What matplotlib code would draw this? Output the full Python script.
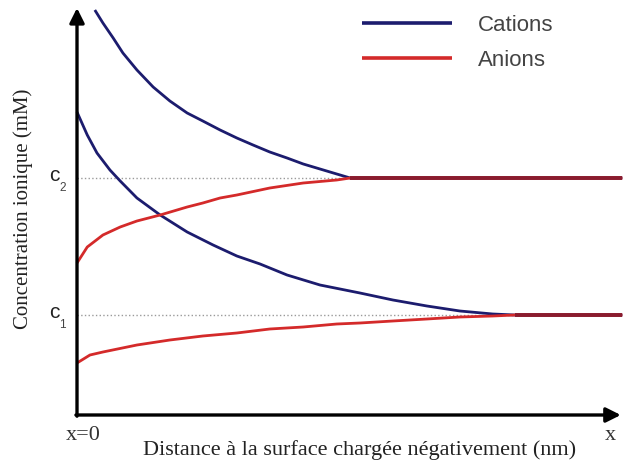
import matplotlib
matplotlib.use('Agg')
import matplotlib.pyplot as plt  # noqa: E402
import numpy as np  # noqa: E402

# ------------------------------------------------------------------
# Data (arbitrary units: x in nm, y in mM)
# ------------------------------------------------------------------
c1_level = 1.00
c2_level = 2.37

# high concentration (c2) profiles
x_cat_c2 = [0.33, 0.48, 0.67, 0.85, 1.11, 1.41, 1.72, 2.04, 2.33, 2.65, 2.96, 3.26,
            3.57, 3.89, 4.19, 4.50, 4.81, 5.06, 10.1]
y_cat_c2 = [4.05, 3.92, 3.77, 3.62, 3.45, 3.28, 3.14, 3.02, 2.94, 2.85, 2.77, 2.70,
            2.63, 2.57, 2.51, 2.46, 2.41, 2.37, 2.37]
x_an_c2 = [0.00, 0.19, 0.48, 0.80, 1.11, 1.54, 2.04, 2.33, 2.65, 2.96, 3.57, 4.19,
           4.81, 5.06, 10.1]
y_an_c2 = [1.52, 1.68, 1.80, 1.88, 1.94, 2.00, 2.08, 2.12, 2.17, 2.20, 2.27, 2.32,
           2.35, 2.37, 2.37]

# low concentration (c1) profiles
x_cat_c1 = [0.00, 0.19, 0.37, 0.61, 0.80, 1.11, 1.54, 2.04, 2.52, 2.96, 3.39, 3.89,
            4.50, 5.24, 5.85, 6.48, 7.09, 7.70, 8.11, 10.1]
y_cat_c1 = [3.03, 2.80, 2.62, 2.45, 2.34, 2.17, 2.00, 1.83, 1.70, 1.59, 1.51, 1.40,
            1.30, 1.22, 1.15, 1.09, 1.04, 1.01, 1.00, 1.00]
x_an_c1 = [0.00, 0.24, 0.48, 1.11, 1.72, 2.33, 2.96, 3.57, 4.19, 4.81, 5.24, 5.85,
           6.48, 7.09, 7.70, 8.11, 10.1]
y_an_c1 = [0.52, 0.60, 0.63, 0.70, 0.75, 0.79, 0.82, 0.86, 0.88, 0.91, 0.92, 0.94,
           0.96, 0.98, 0.99, 1.00, 1.00]

series_labels = ['Cations', 'Anions']

CAT_COLOR = '#1c1c6e'
AN_COLOR = '#d42a2a'
MIX_COLOR = '#8a1c2e'
SERIF = 'Liberation Serif'
SANS = 'Liberation Sans'

fig = plt.figure(figsize=(6.23, 4.63), dpi=100)
ax = fig.add_axes([0, 0, 1, 1])
ax.set_xlim(-1.426, 10.111)
ax.set_ylim(-0.48, 4.15)
ax.axis('off')

# dotted reference levels, from the wall to where the profiles merge
ax.hlines(c2_level, 0, x_an_c2[-2], colors='#9a9a9a', linestyles=':', lw=1.0)
ax.hlines(c1_level, 0, x_an_c1[-2], colors='#9a9a9a', linestyles=':', lw=1.0)

cat_line, = ax.plot(x_cat_c2, y_cat_c2, color=CAT_COLOR, lw=2.0, label=series_labels[0],
                    solid_capstyle='butt', solid_joinstyle='round')
ax.plot(x_cat_c1, y_cat_c1, color=CAT_COLOR, lw=2.0, solid_capstyle='butt',
        solid_joinstyle='round')
an_line, = ax.plot(x_an_c2, y_an_c2, color=AN_COLOR, lw=2.0, label=series_labels[1],
                   solid_capstyle='butt', solid_joinstyle='round')
ax.plot(x_an_c1, y_an_c1, color=AN_COLOR, lw=2.0, solid_capstyle='butt',
        solid_joinstyle='round')

# bulk plateau where cations and anions overlap
for xs, ys in [(x_an_c2, y_an_c2), (x_an_c1, y_an_c1)]:
    xs, ys = np.asarray(xs), np.asarray(ys)
    tail = xs >= xs[-2]
    ax.plot(xs[tail], ys[tail], color=MIX_COLOR, lw=2.8, solid_capstyle='butt')

# axis arrows
arrow = dict(arrowstyle='-|>', lw=2.4, color='black', mutation_scale=22,
             shrinkA=0, shrinkB=0)
ax.annotate('', xy=(0, 4.07), xytext=(0, -0.012), arrowprops=arrow)
ax.annotate('', xy=(10.07, 0), xytext=(-0.02, 0), arrowprops=arrow)

# level labels c2 / c1
for lvl, sub in [(c2_level, '2'), (c1_level, '1')]:
    ax.text(-0.42, lvl + 0.03, 'c', family=SANS, fontsize=15, color='#222222',
            ha='center', va='center')
    ax.text(-0.27, lvl - 0.10, sub, family=SANS, fontsize=8.5, color='#444444',
            ha='center', va='center')

ax.text(0.11, -0.20, 'x=0', family=SERIF, fontsize=16, color='#333333',
        ha='center', va='center')
ax.text(9.87, -0.20, 'x', family=SERIF, fontsize=16, color='#333333',
        ha='center', va='center')
ax.text(5.24, -0.355, 'Distance à la surface chargée négativement (nm)', family=SERIF,
        fontsize=16, color='#222222', ha='center', va='center')
ax.text(-1.0, 2.06, 'Concentration ionique (mM)', family=SERIF, fontsize=15,
        color='#222222', ha='center', va='center', rotation=90)

leg = ax.legend(handles=[cat_line, an_line], loc='upper left',
                bbox_to_anchor=(0.581, 0.968), frameon=False,
                prop={'family': SANS, 'size': 16}, handlelength=4.05,
                handletextpad=1.15, labelspacing=0.62, borderpad=0, borderaxespad=0)
for h in leg.get_lines():
    h.set_linewidth(2.6)
for t in leg.get_texts():
    t.set_color('#444444')

fig.savefig('out.png', dpi=100)
plt.close(fig)
